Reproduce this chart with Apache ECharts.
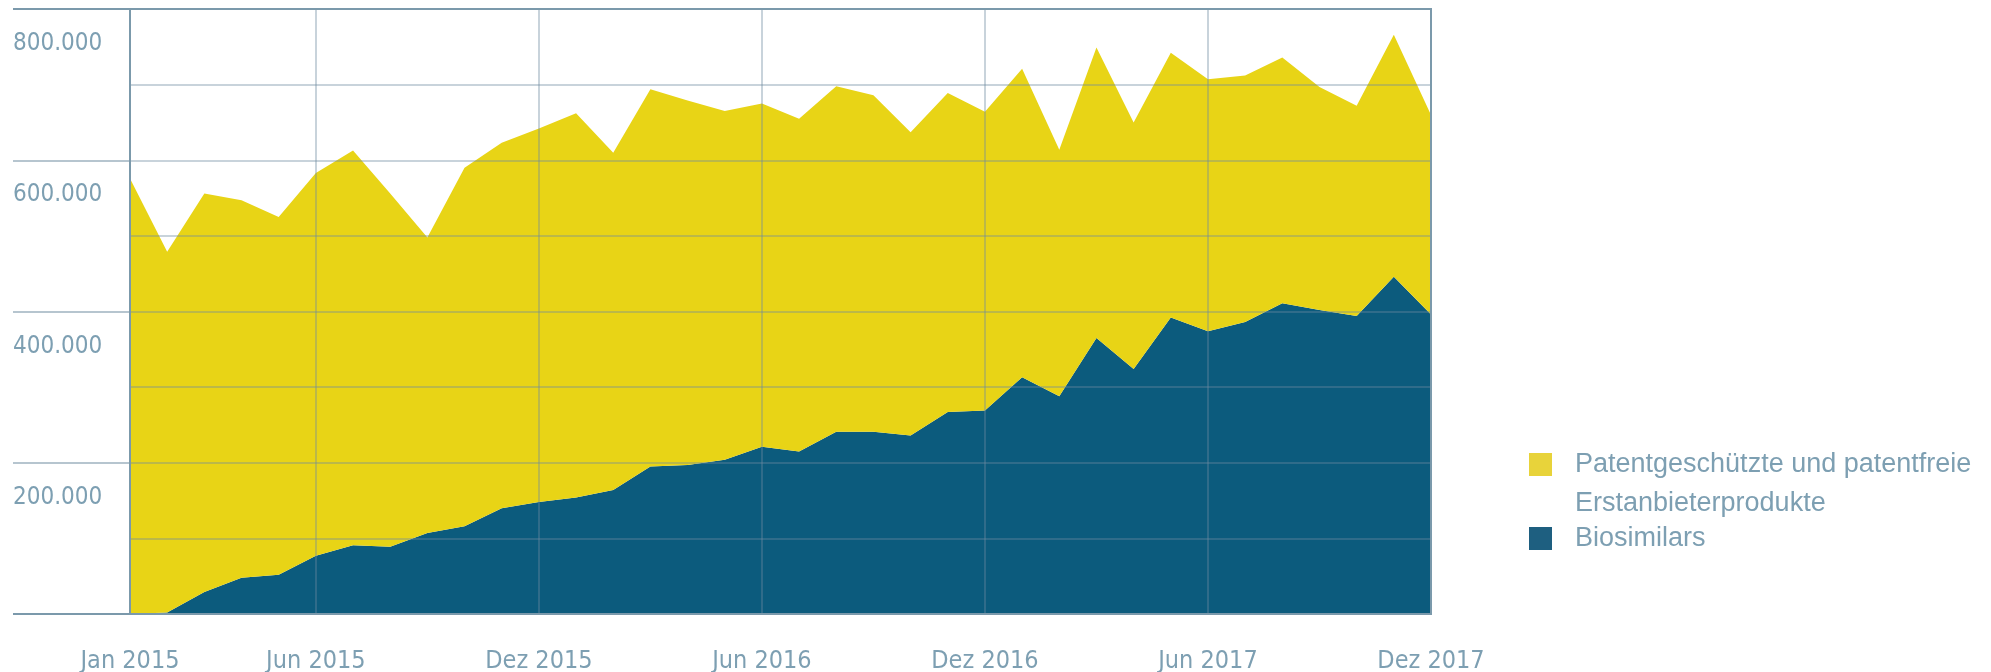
<!DOCTYPE html>
<html>
<head>
<meta charset="utf-8">
<script src="https://cdn.jsdelivr.net/npm/echarts@6/dist/echarts.min.js"></script>
<style>
html,body{margin:0;padding:0;background:#fff;}
#chart{width:1991px;height:672px;}
</style>
</head>
<body>
<div id="chart"></div>
<script>
const months = [
  'Jan 2015','Feb 2015','Mär 2015','Apr 2015','Mai 2015','Jun 2015','Jul 2015','Aug 2015','Sep 2015','Okt 2015','Nov 2015','Dez 2015',
  'Jan 2016','Feb 2016','Mär 2016','Apr 2016','Mai 2016','Jun 2016','Jul 2016','Aug 2016','Sep 2016','Okt 2016','Nov 2016','Dez 2016',
  'Jan 2017','Feb 2017','Mär 2017','Apr 2017','Mai 2017','Jun 2017','Jul 2017','Aug 2017','Sep 2017','Okt 2017','Nov 2017','Dez 2017'
];
const labelledMonths = [0, 5, 11, 17, 23, 29, 35];
const biosimilars = [0, 2000, 29000, 48000, 52000, 77000, 91000, 89000, 107000, 116000, 140000, 148000,
  154000, 164000, 195000, 197000, 204000, 221000, 215000, 241000, 241000, 236000, 267000, 269000,
  313000, 288000, 365000, 324000, 392000, 374000, 386000, 411000, 402000, 394000, 446000, 396000];
const erstanbieter = [576000, 477000, 527000, 499000, 473000, 506000, 522000, 467000, 391000, 474000, 483000, 494000,
  508000, 446000, 499000, 482000, 461000, 454000, 440000, 457000, 445000, 401000, 422000, 395000,
  408000, 326000, 384000, 326000, 350000, 333000, 326000, 325000, 295000, 278000, 320000, 264000];
const nameErst = 'Patentgeschützte und patentfreie\nErstanbieterprodukte';
const nameBio = 'Biosimilars';

const axisFont = "'Liberation Sans Narrow', 'DejaVu Sans Condensed', Roboto, sans-serif";
const legendFont = "'Liberation Sans', Arial, sans-serif";
const textColor = '#7d9fb2';
const frameColor = '#7b99ab';
const gridColor = 'rgba(110,140,160,0.5)';

const chart = echarts.init(document.getElementById('chart'), null, {renderer: 'canvas'});
chart.setOption({
  animation: false,
  backgroundColor: '#ffffff',
  grid: {left: 130, right: 560, top: 9, bottom: 58, show: true, borderColor: frameColor, borderWidth: 2, z: 10,
         outerBoundsMode: 'none', containLabel: false},
  legend: [
    {
      data: [{name: nameErst, itemStyle: {color: '#e8d33a'}}],
      formatter: (n) => '\n' + n,
      left: 1529, top: 406, padding: 0, orient: 'vertical',
      icon: 'rect', itemWidth: 23, itemHeight: 23, selectedMode: false,
      textStyle: {fontFamily: legendFont, fontSize: 27, color: textColor, lineHeight: 39, padding: [0, 0, 0, 18]}
    },
    {
      data: [{name: nameBio, itemStyle: {color: '#1e5f80'}}],
      left: 1529, top: 519, padding: 0, orient: 'vertical',
      icon: 'rect', itemWidth: 23, itemHeight: 23, selectedMode: false,
      textStyle: {fontFamily: legendFont, fontSize: 27, color: textColor, lineHeight: 39, padding: [0, 0, 0, 18]}
    }
  ],
  xAxis: {
    type: 'category',
    data: months,
    boundaryGap: false,
    z: 5,
    axisLine: {show: true, lineStyle: {color: frameColor, width: 2}},
    axisTick: {show: false},
    axisLabel: {
      interval: (i) => labelledMonths.includes(i),
      fontFamily: axisFont, fontSize: 25, color: textColor, margin: 35
    },
    splitLine: {
      show: true,
      interval: (i) => labelledMonths.includes(i) && i !== 0 && i !== 35,
      lineStyle: {color: gridColor, width: 1.5}
    }
  },
  yAxis: [
    {
      type: 'value', min: 0, max: 800000, interval: 200000, z: 5, position: 'left',
      axisLine: {show: true, lineStyle: {color: frameColor, width: 2}},
      axisTick: {show: true, length: 117, lineStyle: {color: gridColor, width: 2}},
      minorTick: {show: false, splitNumber: 2},
      minorSplitLine: {show: true, lineStyle: {color: gridColor, width: 1.5}},
      splitLine: {show: true, lineStyle: {color: gridColor, width: 1.5}},
      axisLabel: {
        formatter: (v) => v === 0 ? '' : (v / 1000) + '.000',
        align: 'left', verticalAlign: 'top', margin: 117, padding: [23, 0, 0, 0],
        fontFamily: axisFont, fontSize: 24, color: textColor
      }
    },
    {
      type: 'value', min: 0, max: 800000, interval: 800000, z: 6, position: 'left', offset: 0,
      axisLine: {show: false},
      axisTick: {show: true, length: 117, lineStyle: {color: frameColor, width: 2}},
      splitLine: {show: false},
      axisLabel: {show: false}
    }
  ],
  series: [
    {
      name: nameBio, type: 'line', stack: 'total', data: biosimilars,
      symbol: 'none', lineStyle: {width: 0}, itemStyle: {color: '#0c5b7d'},
      areaStyle: {color: '#0c5b7d', opacity: 1}
    },
    {
      name: nameErst, type: 'line', stack: 'total', data: erstanbieter,
      symbol: 'none', lineStyle: {width: 0}, itemStyle: {color: '#e8d416'},
      areaStyle: {color: '#e8d416', opacity: 1}
    }
  ]
});
</script>
</body>
</html>
